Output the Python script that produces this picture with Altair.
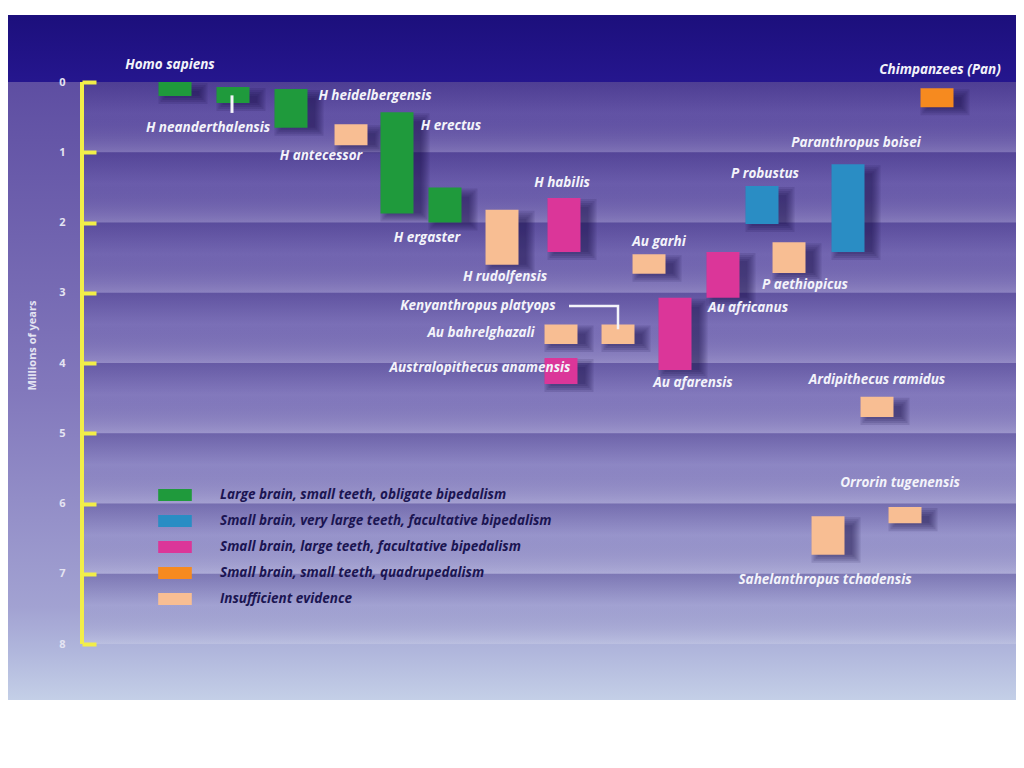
"""Hominin species time ranges, drawn as floating bars on a banded time axis."""

from __future__ import annotations

import altair as alt
import pandas as pd

# ---- data -----------------------------------------------------------------
species = [
    "Homo sapiens", "H neanderthalensis", "H heidelbergensis", "H antecessor",
    "H erectus", "H ergaster", "H rudolfensis", "H habilis", "Au garhi",
    "Au africanus", "P robustus", "P aethiopicus", "Paranthropus boisei",
    "Chimpanzees (Pan)", "Kenyanthropus platyops", "Au bahrelghazali",
    "Australopithecus anamensis", "Au afarensis", "Ardipithecus ramidus",
    "Orrorin tugenensis", "Sahelanthropus tchadensis",
]
# 0 green, 1 blue, 2 magenta, 3 orange, 4 peach
group_idx = [0, 0, 0, 4, 0, 0, 4, 2, 4, 2, 1, 4, 1, 3, 4, 4, 2, 2, 4, 4, 4]
# column of each species in the layout (horizontal, arbitrary units)
column = [175, 233, 291, 351, 397, 445, 502, 564, 649, 723, 762, 789, 848,
          937, 618, 561, 561, 675, 877, 905, 828]
# millions of years ago
start_myr = [0.0, 0.07, 0.10, 0.60, 0.43, 1.50, 1.82, 1.65, 2.45, 2.42, 1.48,
             2.28, 1.17, 0.09, 3.45, 3.45, 3.93, 3.07, 4.48, 6.05, 6.18]
end_myr = [0.20, 0.30, 0.65, 0.90, 1.87, 2.00, 2.60, 2.42, 2.73, 3.07, 2.02,
           2.72, 2.42, 0.36, 3.73, 3.73, 4.30, 4.10, 4.77, 6.28, 6.73]

# where each name is written
label_col = [170, 208, 375, 321, 451, 427, 505, 562, 659, 748, 765, 805, 856,
             940, 478, 481, 480, 693, 877, 900, 825]
label_myr = [-0.24, 0.65, 0.20, 1.05, 0.63, 2.22, 2.78, 1.44, 2.28, 3.22, 1.31,
             2.89, 0.87, -0.17, 3.19, 3.57, 4.07, 4.28, 4.24, 5.71, 7.09]

groups = [
    "Large brain, small teeth, obligate bipedalism",
    "Small brain, very large teeth, facultative bipedalism",
    "Small brain, large teeth, facultative bipedalism",
    "Small brain, small teeth, quadrupedalism",
    "Insufficient evidence",
]
group_colors = ["#1f9a3c", "#2a8dc4", "#db3699", "#f68a1f", "#f8be93"]

ticks = [0, 1, 2, 3, 4, 5, 6, 7, 8]

# connector lines (column, myr)
neander_line_col = [232, 232]
neander_line_myr = [0.19, 0.44]
kenya_line_col = [569, 618, 618]
kenya_line_myr = [3.19, 3.19, 3.52]

# ---- scales ---------------------------------------------------------------
W, H = 1008, 685
X_MIN, X_MAX = 8, 1016
Y_MIN, Y_MAX = -0.954, 8.797
AXIS_COL = 82

FONT = "Open Sans"
YELLOW = "#f2ee48"

x_scale = alt.Scale(domain=[X_MIN, X_MAX], nice=False, zero=False, padding=0)
y_scale = alt.Scale(domain=[Y_MIN, Y_MAX], nice=False, zero=False, reverse=True, padding=0)

time_axis = alt.Axis(
    orient="right",
    offset=-(W - (AXIS_COL - X_MIN)),
    zindex=1,
    values=ticks,
    domain=False,
    grid=False,
    tickColor=YELLOW,
    tickWidth=4,
    tickSize=14,
    labelAlign="right",
    labelBaseline="middle",
    labelPadding=-31,
    labelColor="#e4e4f2",
    labelFont=FONT,
    labelFontWeight="bold",
    labelFontSize=11,
    title="Millions of years",
    titleColor="#e4e4f2",
    titleFont=FONT,
    titleFontWeight="bold",
    titleFontSize=11,
    titleAngle=270,
    titleAlign="center",
    titleBaseline="middle",
    titleX=-50,
    titleY=330,
)


def xq(field: str) -> alt.X:
    return alt.X(f"{field}:Q", scale=x_scale, axis=None)


def yq(field: str) -> alt.Y:
    # every layer carries the same axis so Vega-Lite keeps it
    return alt.Y(f"{field}:Q", scale=y_scale, axis=time_axis)


def grad(stops):
    return alt.LinearGradient(
        gradient="linear",
        stops=[alt.GradientStop(color=c, offset=o) for o, c in stops],
        x1=0, x2=0, y1=0, y2=1,
    )


bars = pd.DataFrame({
    "species": species,
    "group": [groups[i] for i in group_idx],
    "col": column,
    "start": start_myr,
    "end": end_myr,
})
labels = pd.DataFrame({"species": species, "col": label_col, "myr": label_myr})
bands = pd.DataFrame({"top": ticks[:-1], "bottom": ticks[1:]})
sky = pd.DataFrame({"top": [Y_MIN], "bottom": [0]})
field = pd.DataFrame({"top": [0], "bottom": [Y_MAX]})

# ---- background -------------------------------------------------------------
sky_layer = alt.Chart(sky).mark_rect(
    color=grad([(0, "#1c0f7c"), (1, "#25168e")])
).encode(x=alt.value(0), x2=alt.value("width"), y=yq("top"), y2="bottom:Q")

field_layer = alt.Chart(field).mark_rect(
    color=grad([
        (0, "#5e4ea2"), (0.5, "#8278bc"), (0.85, "#a2a2d2"),
        (0.92, "#b0b6dc"), (1, "#c4cfe7"),
    ])
).encode(x=alt.value(0), x2=alt.value("width"), y=yq("top"), y2="bottom:Q")

band_layer = alt.Chart(bands).mark_rect(
    color=grad([
        (0, "rgba(32,16,105,0.26)"),
        (0.45, "rgba(32,16,105,0.0)"),
        (1, "rgba(255,255,255,0.16)"),
    ])
).encode(
    x=alt.X(datum=AXIS_COL, scale=x_scale, axis=None),
    x2=alt.value("width"),
    y=yq("top"),
    y2="bottom:Q",
)

# ---- yellow time axis --------------------------------------------------------
axis_line = alt.Chart(pd.DataFrame({"top": [ticks[0]], "bottom": [ticks[-1]]})).mark_rule(
    color=YELLOW, strokeWidth=4
).encode(
    x=alt.X(datum=AXIS_COL, scale=x_scale, axis=None),
    y=yq("top"),
    y2="bottom:Q",
)

# ---- species bars -----------------------------------------------------------
shadows = [
    alt.Chart(bars).mark_bar(
        width=33, xOffset=8, yOffset=9, color="#120840", opacity=0.12,
        stroke="#120840", strokeWidth=w,
    ).encode(x=xq("col"), y=yq("start"), y2="end:Q")
    for w in (0, 4, 8, 12, 16)
]

bar_layer = alt.Chart(bars).mark_bar(width=33).encode(
    x=xq("col"),
    y=yq("start"),
    y2="end:Q",
    color=alt.Color(
        "group:N",
        scale=alt.Scale(domain=groups, range=group_colors),
        legend=alt.Legend(
            orient="none",
            legendX=160,
            legendY=473,
            title=None,
            symbolType="M-2.4,-0.85L2.4,-0.85L2.4,0.85L-2.4,0.85Z",
            symbolSize=196,
            symbolStrokeWidth=0,
            symbolOpacity=1,
            labelOffset=38,
            rowPadding=12,
            labelFont=FONT,
            labelFontStyle="italic",
            labelFontWeight="bold",
            labelFontSize=13.5,
            labelColor="#1b1552",
            labelLimit=0,
        ),
    ),
    tooltip=["species:N", "group:N", "start:Q", "end:Q"],
)

# ---- connectors and names -------------------------------------------------
neander_line = alt.Chart(pd.DataFrame({
    "col": neander_line_col, "myr": neander_line_myr, "i": [0, 1]
})).mark_line(color="#f4f4fa", strokeWidth=3).encode(
    x=xq("col"), y=yq("myr"), order="i:O",
)

kenya_line = alt.Chart(pd.DataFrame({
    "col": kenya_line_col, "myr": kenya_line_myr, "i": [0, 1, 2]
})).mark_line(color="#f4f4fa", strokeWidth=2.5).encode(
    x=xq("col"), y=yq("myr"), order="i:O",
)

name_layer = alt.Chart(labels).mark_text(
    font=FONT, fontSize=13.5, fontStyle="italic", fontWeight="bold",
    color="#f3f3fa", align="center", baseline="middle",
).encode(x=xq("col"), y=yq("myr"), text="species:N")

chart = alt.layer(
    sky_layer, field_layer, band_layer, axis_line,
    *shadows, bar_layer, neander_line, kenya_line, name_layer,
).properties(
    width=W,
    height=H,
    autosize=alt.AutoSizeParams(type="none"),
    padding={"top": 7, "left": 0, "right": 0, "bottom": 0},
    background="white",
).configure_view(stroke=None)

chart.save("out.html", embed_options={"renderer": "svg", "actions": False})
